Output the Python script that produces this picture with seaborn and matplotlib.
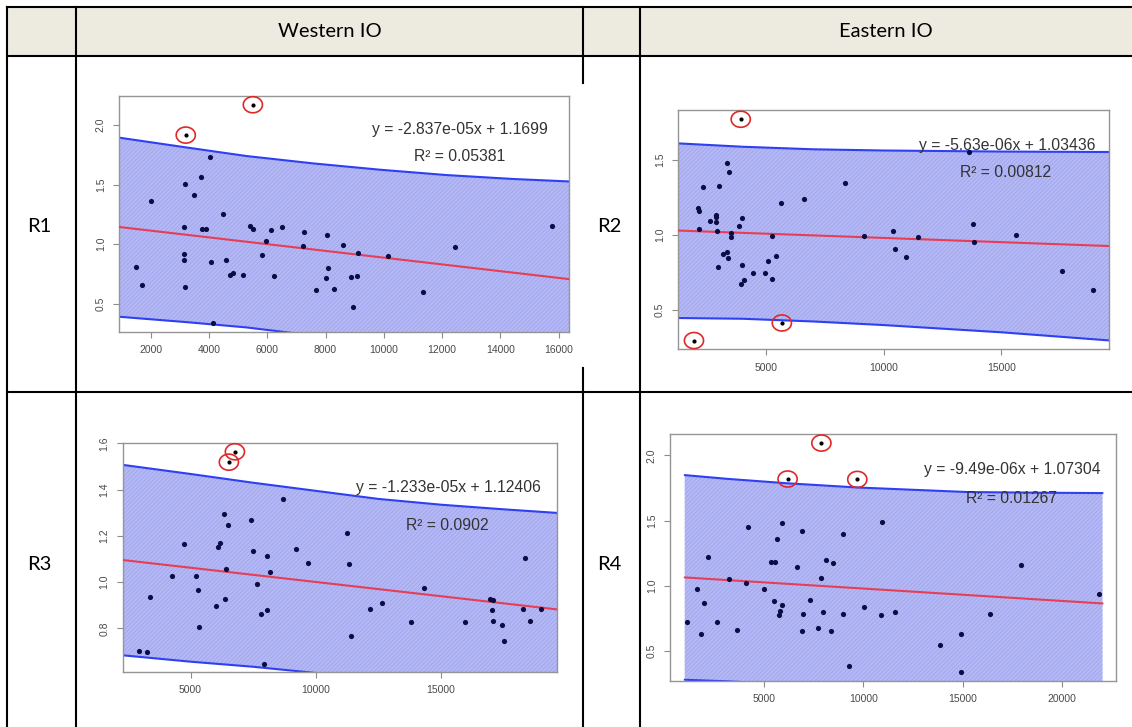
import numpy as np
import pandas as pd
import matplotlib
matplotlib.use("Agg")
import matplotlib.pyplot as plt
import seaborn as sns
from matplotlib.lines import Line2D
from matplotlib.patches import Rectangle
from matplotlib.path import Path

# ---------------- data ----------------
col_titles = ["Western IO", "Eastern IO"]
row_labels = ["R1", "R2", "R3", "R4"]

# R1 (Western IO, top)
r1_x = [1484, 1691, 2000, 3169, 3157, 3134, 3134, 3180, 3489, 3718, 3776, 3890, 4051, 4074,
        4154, 4498, 4589, 4738, 4818, 5174, 5414, 5494, 5815, 5953, 6125, 6239, 6503, 7213,
        7259, 7671, 8015, 8061, 8095, 8278, 8588, 8874, 8954, 9080, 9126, 10146, 11360,
        12426, 15783]
r1_y = [0.808, 0.657, 1.365, 1.505, 1.141, 0.914, 0.864, 0.640, 1.412, 1.563, 1.124, 1.124,
        1.729, 0.850, 0.335, 1.256, 0.869, 0.738, 0.757, 0.741, 1.155, 1.130, 0.909, 1.029,
        1.116, 0.730, 1.146, 0.987, 1.102, 0.618, 0.716, 1.077, 0.797, 0.620, 0.990, 0.727,
        0.475, 0.732, 0.925, 0.900, 0.595, 0.976, 1.152]
r1_out_x = [3203, 5506]
r1_out_y = [1.916, 2.171]
r1_band_x = [900, 3203, 5288, 7580, 9871, 12162, 14454, 16400]
r1_upper = [1.895, 1.813, 1.740, 1.678, 1.625, 1.580, 1.547, 1.526]
r1_lower = [0.390, 0.345, 0.300, 0.232, 0.155, 0.070, -0.030, -0.120]
r1_fit = (-2.837e-05, 1.1699)
r1_eq = "y = -2.837e-05x + 1.1699"
r1_rsq = "R\u00b2 = 0.05381"
r1_xticks = [2000, 4000, 6000, 8000, 10000, 12000, 14000, 16000]
r1_yticks = [0.5, 1.0, 1.5, 2.0]

# R2 (Eastern IO, top)
r2_x = [2115, 2130, 2160, 2324, 2623, 2862, 2877, 2877, 2907, 2952, 2997, 3191, 3326, 3356,
        3386, 3445, 3505, 3505, 3864, 3969, 3999, 3954, 4043, 4447, 4970, 5090, 5254, 5269,
        5433, 5628, 6614, 8378, 9170, 10396, 10501, 10949, 11472, 13610, 13819, 13849,
        15628, 17586, 18902]
r2_y = [1.180, 1.157, 1.035, 1.316, 1.091, 1.133, 1.115, 1.082, 1.023, 0.787, 1.323, 0.874,
        1.475, 0.883, 0.845, 1.417, 1.014, 0.986, 1.059, 0.799, 1.110, 0.674, 0.700, 0.747,
        0.745, 0.822, 0.707, 0.991, 0.857, 1.208, 1.237, 1.342, 0.993, 1.023, 0.906, 0.852,
        0.986, 1.553, 1.073, 0.953, 1.000, 0.761, 0.630]
r2_out_x = [1936, 3924, 5673]
r2_out_y = [0.295, 1.768, 0.412]
r2_band_x = [1200, 4000, 7000, 10000, 15000, 19650]
r2_upper = [1.608, 1.585, 1.568, 1.560, 1.553, 1.550]
r2_lower = [0.445, 0.440, 0.422, 0.398, 0.350, 0.295]
r2_fit = (-5.63e-06, 1.03436)
r2_eq = "y = -5.63e-06x + 1.03436"
r2_rsq = "R\u00b2 = 0.00812"
r2_xticks = [5000, 10000, 15000]
r2_yticks = [0.5, 1.0, 1.5]

# R3 (Western IO, bottom)
r3_x = [2936, 3282, 3375, 4254, 4747, 5213, 5280, 5320, 6012, 6092, 6158, 6332, 6372, 6398,
        6491, 7424, 7490, 7650, 7796, 7943, 8063, 8063, 8183, 8675, 9221, 9687, 11245, 11312,
        11405, 12177, 12643, 13802, 14335, 15946, 16945, 17078, 17051, 17064, 17424, 17517,
        18263, 18329, 18556, 18995]
r3_y = [0.703, 0.700, 0.934, 1.027, 1.167, 1.027, 0.968, 0.804, 0.896, 1.150, 1.169, 1.293,
        0.928, 1.055, 1.248, 1.268, 1.133, 0.994, 0.862, 0.648, 1.111, 0.880, 1.042, 1.359,
        1.144, 1.081, 1.212, 1.079, 0.769, 0.882, 0.909, 0.826, 0.975, 0.827, 0.928, 0.924,
        0.879, 0.831, 0.814, 0.746, 0.885, 1.104, 0.830, 0.882]
r3_out_x = [6531, 6771]
r3_out_y = [1.519, 1.564]
r3_band_x = [2250, 5000, 7500, 10000, 12500, 15000, 17500, 19700]
r3_upper = [1.508, 1.468, 1.430, 1.395, 1.360, 1.335, 1.315, 1.299]
r3_lower = [0.684, 0.656, 0.634, 0.607, 0.570, 0.540, 0.500, 0.460]
r3_fit = (-1.233e-05, 1.12406)
r3_eq = "y = -1.233e-05x + 1.12406"
r3_rsq = "R\u00b2 = 0.0902"
r3_xticks = [5000, 10000, 15000]
r3_yticks = [0.8, 1.0, 1.2, 1.4, 1.6]

# R4 (Eastern IO, bottom)
r4_x = [1099, 1614, 1844, 1968, 2181, 2607, 3227, 3652, 4096, 4202, 5018, 5337, 5532, 5479,
        5638, 5745, 5780, 5887, 5904, 6667, 6915, 6933, 6986, 7323, 7695, 7855, 7996, 8138,
        8386, 8493, 8954, 8954, 9273, 10018, 10869, 10940, 11613, 13847, 14911, 14929,
        16365, 17943, 21897]
r4_y = [0.722, 0.978, 0.630, 0.865, 1.222, 0.724, 1.054, 0.659, 1.022, 1.449, 0.978, 1.184,
        1.184, 0.881, 1.362, 0.773, 0.805, 0.854, 1.478, 1.143, 1.422, 0.651, 0.784, 0.892,
        0.678, 1.062, 0.800, 1.195, 0.654, 1.176, 1.397, 0.784, 0.386, 0.838, 0.778, 1.489,
        0.797, 0.546, 0.632, 0.338, 0.784, 1.157, 0.935]
r4_out_x = [6188, 7890, 9699]
r4_out_y = [1.819, 2.095, 1.816]
r4_band_x = [1003, 3165, 6188, 9699, 15248, 18794, 22056]
r4_upper = [1.849, 1.820, 1.786, 1.754, 1.719, 1.714, 1.711]
r4_lower = [0.278, 0.266, 0.243, 0.207, 0.137, 0.075, 0.017]
r4_fit = (-9.49e-06, 1.07304)
r4_eq = "y = -9.49e-06x + 1.07304"
r4_rsq = "R\u00b2 = 0.01267"
r4_xticks = [5000, 10000, 15000, 20000]
r4_yticks = [0.5, 1.0, 1.5, 2.0]

# ---------------- style ----------------
sns.set_style("white")
plt.rcParams["font.family"] = ["Liberation Sans", "DejaVu Sans"]
plt.rcParams["hatch.linewidth"] = 0.4

W, H = 1132, 727
fig = plt.figure(figsize=(W / 100, H / 100), dpi=100)
fig.patch.set_facecolor("white")


def fx(px):
    return px / W


def fy(py):
    return 1 - py / H


# ---------------- table ----------------
fig.add_artist(Rectangle((fx(7), fy(56)), fx(1132) - fx(7), fy(7) - fy(56),
                         transform=fig.transFigure, facecolor="#edeae0",
                         edgecolor="none", zorder=0))

tbl_lw = 1.5
hlines = [(7, 7, 1132), (56, 7, 1132), (392, 7, 1132)]
vlines = [(7, 7, 727), (76, 7, 727), (583, 7, 83), (583, 368, 727), (640, 7, 727)]
for yy, x0, x1 in hlines:
    fig.add_artist(Line2D([fx(x0), fx(x1)], [fy(yy), fy(yy)], transform=fig.transFigure,
                          color="black", lw=tbl_lw, solid_capstyle="projecting", zorder=1))
for xx, y0, y1 in vlines:
    fig.add_artist(Line2D([fx(xx), fx(xx)], [fy(y0), fy(y1)], transform=fig.transFigure,
                          color="black", lw=tbl_lw, solid_capstyle="projecting", zorder=1))

tfont = dict(family=["Lato", "DejaVu Sans"], fontsize=14.5, color="black",
             ha="center", va="center")
fig.text(fx(329.5), fy(31.5), col_titles[0], **tfont)
fig.text(fx(886), fy(31.5), col_titles[1], **tfont)
fig.text(fx(39), fy(226), row_labels[0], **tfont)
fig.text(fx(609), fy(226), row_labels[1], **tfont)
fig.text(fx(39), fy(565), row_labels[2], **tfont)
fig.text(fx(609), fy(565), row_labels[3], **tfont)

# ---------------- panels ----------------
theta = np.linspace(0, 2 * np.pi, 73)
ellipse = Path(np.column_stack([np.cos(theta), 0.84 * np.sin(theta)]), closed=True)

panels = [
    dict(box=(119, 569, 96, 332), x=r1_x, y=r1_y, ox=r1_out_x, oy=r1_out_y,
         bx=r1_band_x, up=r1_upper, lo=r1_lower, fit=r1_fit, eq=r1_eq, rsq=r1_rsq,
         xt=r1_xticks, yt=r1_yticks, eqpos=(0.562, 0.860), rpos=(0.656, 0.742)),
    dict(box=(678, 1109, 110.4, 349.4), x=r2_x, y=r2_y, ox=r2_out_x, oy=r2_out_y,
         bx=r2_band_x, up=r2_upper, lo=r2_lower, fit=r2_fit, eq=r2_eq, rsq=r2_rsq,
         xt=r2_xticks, yt=r2_yticks, eqpos=(0.559, 0.853), rpos=(0.655, 0.739)),
    dict(box=(122.7, 557.3, 443.3, 672), x=r3_x, y=r3_y, ox=r3_out_x, oy=r3_out_y,
         bx=r3_band_x, up=r3_upper, lo=r3_lower, fit=r3_fit, eq=r3_eq, rsq=r3_rsq,
         xt=r3_xticks, yt=r3_yticks, eqpos=(0.537, 0.808), rpos=(0.651, 0.640)),
    dict(box=(670.1, 1115.9, 433.9, 681.1), x=r4_x, y=r4_y, ox=r4_out_x, oy=r4_out_y,
         bx=r4_band_x, up=r4_upper, lo=r4_lower, fit=r4_fit, eq=r4_eq, rsq=r4_rsq,
         xt=r4_xticks, yt=r4_yticks, eqpos=(0.570, 0.854), rpos=(0.664, 0.738)),
]

for p in panels:
    L, R, T, B = p["box"]
    ax = fig.add_axes([fx(L), fy(B), fx(R) - fx(L), fy(T) - fy(B)])
    ax.set_facecolor("white")

    allx = np.array(p["x"] + p["ox"], dtype=float)
    ally = np.array(p["y"] + p["oy"], dtype=float)
    px = 0.04 * (allx.max() - allx.min())
    py = 0.04 * (ally.max() - ally.min())
    ax.set_xlim(allx.min() - px, allx.max() + px)
    ax.set_ylim(ally.min() - py, ally.max() + py)

    band = pd.DataFrame({"x": p["bx"], "upper": p["up"], "lower": p["lo"]})
    ax.fill_between(band["x"], band["lower"], band["upper"], facecolor="#b4b8f4",
                    edgecolor="#979dea", hatch="////////", linewidth=0, zorder=1)
    sns.lineplot(data=band, x="x", y="upper", ax=ax, color="#2f3ff2", lw=1.5,
                 sort=False, estimator=None, zorder=2)
    sns.lineplot(data=band, x="x", y="lower", ax=ax, color="#2f3ff2", lw=1.5,
                 sort=False, estimator=None, zorder=2)

    slope, icpt = p["fit"]
    fit_df = pd.DataFrame({"x": [p["bx"][0], p["bx"][-1]]})
    fit_df["y"] = slope * fit_df["x"] + icpt
    sns.lineplot(data=fit_df, x="x", y="y", ax=ax, color="#e63e55", lw=1.5,
                 sort=False, estimator=None, zorder=3)

    pts = pd.DataFrame({"x": p["x"], "y": p["y"]})
    sns.scatterplot(data=pts, x="x", y="y", ax=ax, color="#0c0c45", s=14,
                    linewidth=0, zorder=4)
    out = pd.DataFrame({"x": p["ox"], "y": p["oy"]})
    sns.scatterplot(data=out, x="x", y="y", ax=ax, color="black", s=9,
                    linewidth=0, zorder=5)
    ax.scatter(out["x"], out["y"], marker=ellipse, s=190, facecolors="none",
               edgecolors="#e02828", linewidths=1.2, zorder=6, clip_on=False)

    ax.text(p["eqpos"][0], p["eqpos"][1], p["eq"], transform=ax.transAxes,
            ha="left", va="center", fontsize=11.3, color="#333333", zorder=7)
    ax.text(p["rpos"][0], p["rpos"][1], p["rsq"], transform=ax.transAxes,
            ha="left", va="center", fontsize=11.3, color="#333333", zorder=7)

    ax.set_xticks(p["xt"])
    ax.set_xticklabels([f"{t:d}" for t in p["xt"]])
    ax.set_yticks(p["yt"])
    ax.set_yticklabels([f"{t:.1f}" for t in p["yt"]], rotation=90, va="center")
    ax.tick_params(axis="both", direction="out", length=4, width=0.8, color="#8c8c8c",
                   labelsize=7.5, labelcolor="#4a4a4a", pad=5.5,
                   bottom=True, left=True)
    ax.set_xlabel("")
    ax.set_ylabel("")
    ax.grid(False)
    for sp in ax.spines.values():
        sp.set_color("#959595")
        sp.set_linewidth(1.0)

fig.savefig("out.png", dpi=100, facecolor="white")
